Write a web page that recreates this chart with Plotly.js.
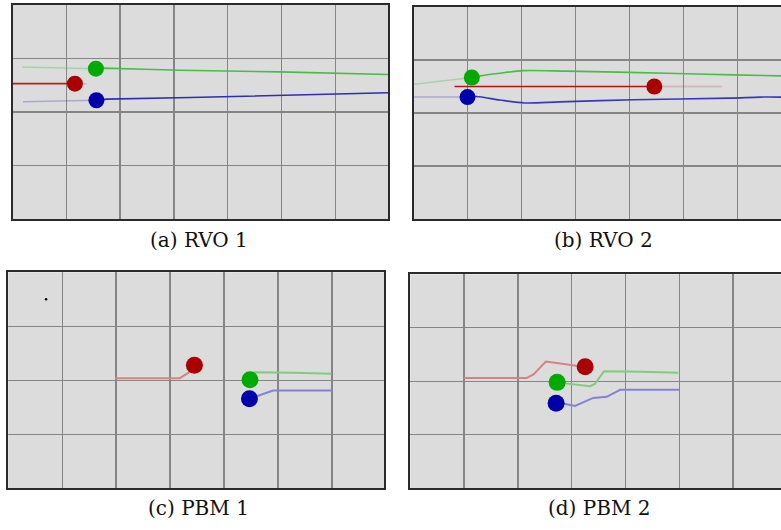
<!DOCTYPE html>
<html>
<head>
<meta charset="utf-8">
<script src="https://cdn.plot.ly/plotly-3.0.1.min.js"></script>
<style>html,body{margin:0;padding:0;background:#fff;}#chart{width:781px;height:530px;}</style>
</head>
<body>
<div id="chart"></div>
<script>
// ---------- Panel (a) RVO 1 ----------
const aGreenFaintX = [0.18, 1.55];
const aGreenFaintY = [2.84, 2.81];
const aGreenX = [1.55, 1.69, 2.46, 3.11, 4.97, 6.03, 6.98];
const aGreenY = [2.81, 2.82, 2.80, 2.78, 2.75, 2.72, 2.70];
const aRedX = [0.0, 1.16];
const aRedY = [2.53, 2.53];
const aRedFaintX = [1.16, 1.38];
const aRedFaintY = [2.53, 2.53];
const aBlueFaintX = [0.195, 1.56];
const aBlueFaintY = [2.19, 2.22];
const aBlueX = [1.56, 1.75, 3.30, 4.85, 5.96, 6.98];
const aBlueY = [2.22, 2.24, 2.27, 2.31, 2.34, 2.36];
const aAgentX = [1.55, 1.16, 1.56];
const aAgentY = [2.81, 2.53, 2.22];

// ---------- Panel (b) RVO 2 ----------
const bGreenFaintX = [0.0, 1.08];
const bGreenFaintY = [2.54, 2.67];
const bGreenX = [1.08, 1.23, 1.60, 2.03, 2.84, 4.69, 5.92, 6.81];
const bGreenY = [2.67, 2.70, 2.75, 2.80, 2.79, 2.75, 2.72, 2.70];
const bRedX = [0.76, 4.46];
const bRedY = [2.50, 2.50];
const bRedFaintX = [4.46, 5.71];
const bRedFaintY = [2.50, 2.50];
const bBlueFaintX = [0.0, 1.00];
const bBlueFaintY = [2.30, 2.30];
const bBlueX = [1.00, 1.17, 1.60, 2.06, 2.71, 4.07, 5.86, 6.42, 6.81];
const bBlueY = [2.30, 2.31, 2.245, 2.19, 2.21, 2.25, 2.28, 2.30, 2.30];
const bAgentX = [1.08, 4.46, 1.00];
const bAgentY = [2.67, 2.50, 2.30];

// ---------- Panel (c) PBM 1 ----------
const cDotX = [0.70];
const cDotY = [3.50];
const cRedX = [1.98, 2.44, 3.18, 3.37, 3.45];
const cRedY = [2.04, 2.04, 2.04, 2.16, 2.28];
const cGreenX = [4.48, 4.57, 5.31, 5.99];
const cGreenY = [2.01, 2.15, 2.14, 2.12];
const cBlueX = [4.47, 4.91, 6.01];
const cBlueY = [1.66, 1.81, 1.81];
const cAgentX = [3.45, 4.48, 4.47];
const cAgentY = [2.28, 2.01, 1.66];

// ---------- Panel (d) PBM 2 ----------
const dRedX = [0.99, 1.45, 2.16, 2.29, 2.52, 3.09, 3.25];
const dRedY = [2.06, 2.06, 2.06, 2.13, 2.37, 2.29, 2.27];
const dGreenX = [2.73, 2.88, 3.34, 3.43, 3.60, 4.30, 4.98];
const dGreenY = [1.98, 1.96, 1.91, 1.95, 2.19, 2.18, 2.16];
const dBlueX = [2.71, 2.91, 3.06, 3.40, 3.65, 3.90, 5.00];
const dBlueY = [1.59, 1.57, 1.54, 1.69, 1.71, 1.84, 1.84];
const dAgentX = [3.25, 2.73, 2.71];
const dAgentY = [2.27, 1.98, 1.59];

const captions = ["(a) RVO 1", "(b) RVO 2", "(c) PBM 1", "(d) PBM 2"];

// colours
const GREEN = '#00aa00', RED = '#aa0000', BLUE = '#0000aa';

function line(x, y, ax, color, width, shape) {
  return {x: x, y: y, xaxis: 'x' + ax, yaxis: 'y' + ax, type: 'scatter', mode: 'lines',
          line: {color: color, width: width, shape: shape || 'linear', smoothing: 0.8},
          hoverinfo: 'skip', showlegend: false};
}
function agents(x, y, ax, colors, size) {
  return {x: x, y: y, xaxis: 'x' + ax, yaxis: 'y' + ax, type: 'scatter', mode: 'markers',
          marker: {color: colors, size: size, line: {width: 0}}, hoverinfo: 'skip', showlegend: false};
}

const traces = [
  // a
  line(aGreenFaintX, aGreenFaintY, '', 'rgba(70,190,70,0.35)', 1.5),
  line(aGreenX, aGreenY, '', 'rgb(70,190,70)', 1.6),
  line(aRedX, aRedY, '', 'rgb(185,30,30)', 1.6),
  line(aRedFaintX, aRedFaintY, '', 'rgba(190,40,40,0.2)', 1.5),
  line(aBlueFaintX, aBlueFaintY, '', 'rgba(50,50,190,0.3)', 1.5),
  line(aBlueX, aBlueY, '', 'rgb(45,45,185)', 1.6),
  agents(aAgentX, aAgentY, '', [GREEN, RED, BLUE], 16),
  // b
  line(bGreenFaintX, bGreenFaintY, '2', 'rgba(70,190,70,0.35)', 1.5),
  line(bGreenX, bGreenY, '2', 'rgb(70,190,70)', 1.6, 'spline'),
  line(bRedX, bRedY, '2', 'rgb(185,20,20)', 1.6),
  line(bRedFaintX, bRedFaintY, '2', 'rgba(190,40,40,0.2)', 1.8),
  line(bBlueFaintX, bBlueFaintY, '2', 'rgba(50,50,190,0.3)', 1.5),
  line(bBlueX, bBlueY, '2', 'rgb(55,55,190)', 1.6, 'spline'),
  agents(bAgentX, bAgentY, '2', [GREEN, RED, BLUE], 16),
  // c
  agents(cDotX, cDotY, '3', ['#000000'], 2.5),
  line(cRedX, cRedY, '3', 'rgb(215,130,130)', 2),
  line(cGreenX, cGreenY, '3', 'rgb(125,205,125)', 2),
  line(cBlueX, cBlueY, '3', 'rgb(130,130,215)', 2),
  agents(cAgentX, cAgentY, '3', [RED, GREEN, BLUE], 17),
  // d
  line(dRedX, dRedY, '4', 'rgb(215,130,130)', 2),
  line(dGreenX, dGreenY, '4', 'rgb(125,205,125)', 2),
  line(dBlueX, dBlueY, '4', 'rgb(130,130,215)', 2),
  agents(dAgentX, dAgentY, '4', [RED, GREEN, BLUE], 17)
];

const W = 781, H = 530;
function xd(l, r) { return [l / W, Math.min(1, r / W)]; }
function yd(t, b) { return [1 - b / H, 1 - t / H]; }
function xax(dom, rng, mirror) {
  return {domain: dom, range: rng, dtick: 1, tick0: 0, showgrid: true, gridcolor: '#858585', gridwidth: 1.4,
          zeroline: false, showticklabels: false, ticks: '', showline: true, linecolor: '#2b2b2b',
          linewidth: 2, mirror: mirror, fixedrange: true};
}

const layout = {
  width: W, height: H,
  margin: {l: 0, r: 0, t: 0, b: 0},
  paper_bgcolor: '#ffffff', plot_bgcolor: '#dcdcdc',
  showlegend: false,
  xaxis:  Object.assign(xax(xd(12.5, 388), [0, 6.98], true), {anchor: 'y'}),
  yaxis:  Object.assign(xax(yd(5, 219), [0, 4], true), {anchor: 'x'}),
  xaxis2: Object.assign(xax(xd(413.5, 781), [0, 6.806], true), {anchor: 'y2'}),
  yaxis2: Object.assign(xax(yd(7, 219), [0, 4], false), {anchor: 'x2'}),
  xaxis3: Object.assign(xax(xd(8.3, 384.3), [0, 6.97], true), {anchor: 'y3'}),
  yaxis3: Object.assign(xax(yd(272.3, 488.3), [0, 4], true), {anchor: 'x3'}),
  xaxis4: Object.assign(xax(xd(410.3, 781), [0, 6.89], true), {anchor: 'y4'}),
  yaxis4: Object.assign(xax(yd(274.3, 488.3), [0, 4], false), {anchor: 'x4'}),
  annotations: [
    {text: captions[0], x: 198.5 / W, y: 1 - 240 / H},
    {text: captions[1], x: 603.5 / W, y: 1 - 240 / H},
    {text: captions[2], x: 198 / W, y: 1 - 507.5 / H},
    {text: captions[3], x: 599 / W, y: 1 - 507.5 / H}
  ].map(a => Object.assign(a, {xref: 'paper', yref: 'paper', xanchor: 'center', yanchor: 'middle',
        showarrow: false, font: {family: 'DejaVu Serif', size: 20, color: '#111111'}}))
};

Plotly.newPlot('chart', traces, layout, {displayModeBar: false, staticPlot: true});
</script>
</body>
</html>
